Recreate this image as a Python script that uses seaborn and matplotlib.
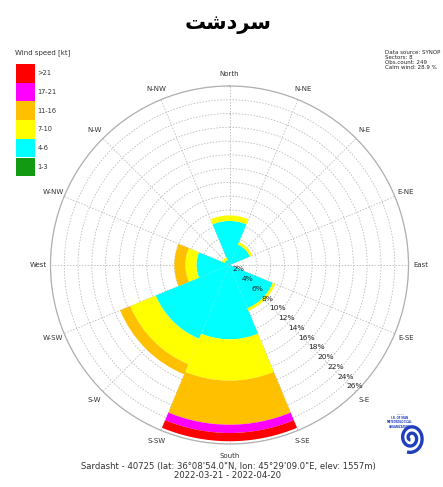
import numpy as np
import matplotlib
matplotlib.use("Agg")
import matplotlib.pyplot as plt
from matplotlib.patches import Rectangle
from matplotlib.transforms import offset_copy
import seaborn as sns

# ---- data -------------------------------------------------------------
station_name = "سردشت"
sectors = ["N", "NE", "E", "SE", "S", "SW", "W", "NW"]
sector_bearing = [0, 45, 90, 135, 180, 225, 270, 315]

speed_classes = ["1-3", "4-6", "7-10", "11-16", "17-21", ">21"]
# frequency (%) per sector for each speed class
freq_1_3 = [0.0, 0.0, 0.0, 0.0, 0.0, 0.0, 0.0, 0.0]
freq_4_6 = [6.4, 3.2, 0.0, 6.8, 10.8, 11.6, 4.8, 0.8]
freq_7_10 = [0.8, 0.4, 0.0, 0.4, 6.0, 4.0, 1.6, 0.4]
freq_11_16 = [0.0, 0.0, 0.0, 0.0, 6.4, 1.6, 1.6, 0.0]
freq_17_21 = [0.0, 0.0, 0.0, 0.0, 1.2, 0.0, 0.0, 0.0]
freq_gt21 = [0.0, 0.0, 0.0, 0.0, 1.2, 0.0, 0.0, 0.0]

class_colors = ["#129a12", "#00ffff", "#ffff00", "#ffc000", "#ff00ff", "#ff0000"]

compass_labels = ["North", "N-NE", "N-E", "E-NE", "East", "E-SE", "S-E", "S-SE",
                  "South", "S-SW", "S-W", "W-SW", "West", "W-NW", "N-W", "N-NW"]
radial_ticks = [2, 4, 6, 8, 10, 12, 14, 16, 18, 20, 22, 24, 26]

info_lines = ["Data source: SYNOP", "Sectors: 8", "Obs.count: 249", "Calm wind: 28.9 %"]
station_line = "Sardasht - 40725 (lat: 36°08'54.0\"N, lon: 45°29'09.0\"E, elev: 1557m)"
period_line = "2022-03-21 - 2022-04-20"


def shape_arabic(text):
    """Contextual forms + visual order for the letters used in the title."""
    forms = {  # isolated, final, initial, medial
        "س": ("\uFEB1", "\uFEB2", "\uFEB3", "\uFEB4"),
        "ش": ("\uFEB5", "\uFEB6", "\uFEB7", "\uFEB8"),
        "ت": ("\uFE95", "\uFE96", "\uFE97", "\uFE98"),
        "ر": ("\uFEAD", "\uFEAE", None, None),
        "د": ("\uFEA9", "\uFEAA", None, None),
    }
    dual = lambda ch: ch in forms and forms[ch][2] is not None
    out = []
    for i, ch in enumerate(text):
        if ch not in forms:
            out.append(ch)
            continue
        prev_join = i > 0 and dual(text[i - 1])
        next_join = i < len(text) - 1 and dual(ch) and text[i + 1] in forms
        if prev_join and next_join:
            out.append(forms[ch][3])
        elif prev_join:
            out.append(forms[ch][1])
        elif next_join:
            out.append(forms[ch][2])
        else:
            out.append(forms[ch][0])
    return "".join(reversed(out))


# ---- figure -----------------------------------------------------------
sns.set_theme(style="white")
plt.rcParams["font.family"] = ["DejaVu Sans"]
palette = sns.color_palette(class_colors)

W, H = 443, 487
fig = plt.figure(figsize=(W / 100, H / 100), dpi=100)
fig.patch.set_facecolor("white")

cx, cy, R = 229.5, 265.0, 179.0
ax = fig.add_axes([(cx - R) / W, (H - cy - R) / H, 2 * R / W, 2 * R / H],
                  projection="polar")
ax.set_facecolor("white")
ax.set_theta_zero_location("N")
ax.set_theta_direction(-1)
rmax = radial_ticks[-1]
ax.set_ylim(0, rmax)

ax.set_xticks(np.deg2rad(np.arange(0, 360, 22.5)))
ax.set_xticklabels([])
ax.set_yticks(radial_ticks)
ax.set_yticklabels([])
ax.grid(True, color="#bcbcbc", linestyle=(0, (1.8, 1.8)), linewidth=0.6)
ax.spines["polar"].set_color("#b0b0b0")
ax.spines["polar"].set_linewidth(0.9)
ax.set_axisbelow(True)

theta = np.deg2rad(sector_bearing)
width = np.deg2rad(45)
series = [freq_1_3, freq_4_6, freq_7_10, freq_11_16, freq_17_21, freq_gt21]
bottom = np.zeros(len(sectors))
for vals, col in zip(series, palette):
    vals = np.asarray(vals)
    ax.bar(theta, vals, width=width, bottom=bottom, color=col,
           edgecolor="none", linewidth=0, align="center", zorder=2)
    bottom = bottom + vals

# radial percentage labels along the south-east diagonal
lab_tr = offset_copy(ax.transData, fig=fig, x=-0.7, y=3.8, units="points")
for r in radial_ticks:
    ax.text(np.deg2rad(135), r, f"{r}%", transform=lab_tr, ha="center",
            va="center", fontsize=5.4, color="#222222", zorder=5)

# compass labels
r_lab = rmax * 191.0 / R
for ang, lab in zip(np.arange(0, 360, 22.5), compass_labels):
    ax.text(np.deg2rad(ang), r_lab, lab, ha="center", va="center",
            fontsize=5.0, color="#333333", clip_on=False)

# ---- title ------------------------------------------------------------
fig.text(228 / W, 1 - 24 / H, shape_arabic(station_name), ha="center",
         va="center", fontsize=15, fontweight="bold", color="black")

# ---- legend -----------------------------------------------------------
fig.text(15 / W, 1 - 53 / H, "Wind speed [kt]", ha="left", va="center",
         fontsize=5.0, color="#333333")
box_x, box_w, box_top, box_h = 16, 18.5, 64, 18.7
for i, (lab, col) in enumerate(zip(reversed(speed_classes), reversed(palette))):
    y0 = box_top + i * box_h
    fig.patches.append(Rectangle((box_x / W, 1 - (y0 + box_h) / H),
                                 box_w / W, box_h / H, transform=fig.transFigure,
                                 facecolor=col, edgecolor="none"))
    fig.text((box_x + box_w + 3) / W, 1 - (y0 + box_h / 2) / H, lab,
             ha="left", va="center", fontsize=4.8, color="#333333")

# ---- info block -------------------------------------------------------
for i, line in enumerate(info_lines):
    fig.text(385 / W, 1 - (52.5 + i * 5.0) / H, line, ha="left", va="center",
             fontsize=4.0, color="#222222")

# ---- footer -----------------------------------------------------------
fig.text(228 / W, 1 - 466.5 / H, station_line, ha="center", va="center",
         fontsize=6.1, color="#333333")
fig.text(228 / W, 1 - 475 / H, period_line, ha="center", va="center",
         fontsize=6.1, color="#333333")

# ---- organisation emblem (spiral) -------------------------------------
lax = fig.add_axes([397 / W, 1 - 456 / H, 28 / W, 36 / H])
lax.set_xlim(-1.1, 1.1)
lax.set_ylim(-1.4, 1.4)
lax.set_aspect("equal")
lax.axis("off")
t = np.linspace(0.6 * np.pi, 4.6 * np.pi, 300)
rr = t / (4.6 * np.pi)
lax.plot(rr * np.cos(-t), rr * np.sin(-t) * 1.15, color="#1f3fbf", lw=2.4,
         solid_capstyle="butt")
for k, ln in enumerate(["ـ ـ ـ ـ ـ", "I.R. OF IRAN", "METEOROLOGICAL", "ORGANIZATION"]):
    fig.text(400 / W, 1 - (414 + k * 4.2) / H, ln, ha="center", va="center",
             fontsize=1.8, color="#1f3fbf", fontweight="bold")

fig.savefig("out.png", dpi=100, facecolor="white")
